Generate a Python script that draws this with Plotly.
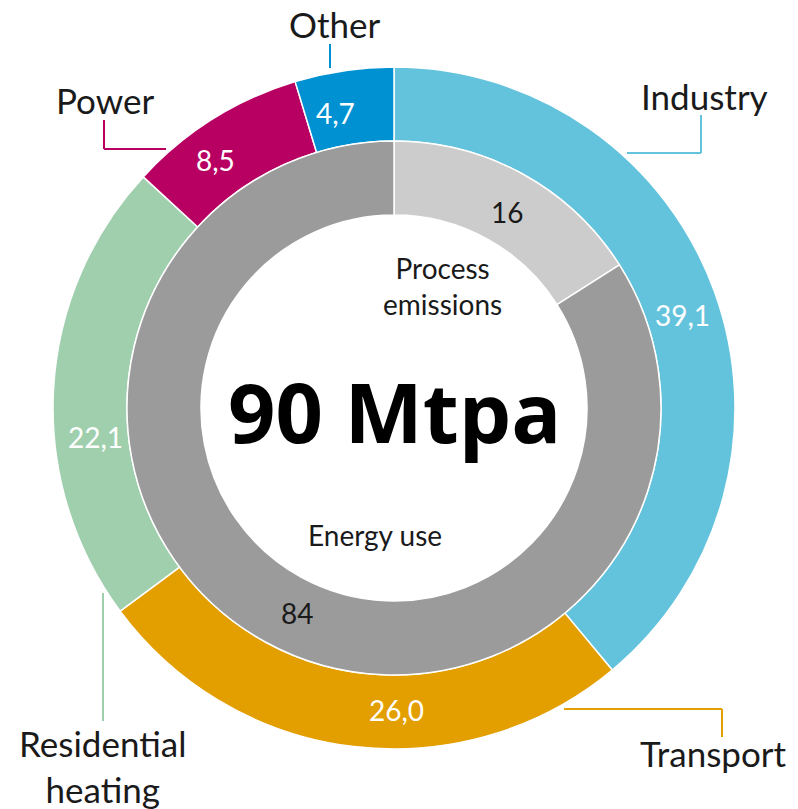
import plotly.graph_objects as go

# Outer ring: emissions by sector (Mtpa)
sectors = ["Industry", "Transport", "Residential heating", "Power", "Other"]
sector_values = [39.1, 26.0, 22.1, 8.5, 4.7]
sector_colors = ["#64C3DC", "#E39E00", "#A0CFAE", "#B80063", "#0091D2"]

# Inner ring: emissions by source
sources = ["Process emissions", "Energy use"]
source_values = [16, 84]
source_colors = ["#CCCCCC", "#9B9B9B"]

total_label = "90 Mtpa"

W, H = 798, 809
CX, CY = 394, 408          # ring centre, px from top-left
R_OUT, R_MID, R_IN = 341, 267, 193

FONT = "Lato"
DARK = "#1a1a1a"


def dom(r):
    x = [(CX - r) / W, (CX + r) / W]
    yb = H - CY
    y = [(yb - r) / H, (yb + r) / H]
    return dict(x=x, y=y)


def fmt(v):
    return f"{v:.1f}".replace(".", ",")


fig = go.Figure()
fig.add_trace(go.Pie(
    labels=sectors, values=sector_values, sort=False, direction="clockwise",
    rotation=0, hole=R_MID / R_OUT, domain=dom(R_OUT),
    marker=dict(colors=sector_colors, line=dict(color="white", width=1.5)),
    textinfo="none", hoverinfo="skip", showlegend=False,
))
fig.add_trace(go.Pie(
    labels=sources, values=source_values, sort=False, direction="clockwise",
    rotation=0, hole=R_IN / R_MID, domain=dom(R_MID),
    marker=dict(colors=source_colors, line=dict(color="white", width=1.5)),
    textinfo="none", hoverinfo="skip", showlegend=False,
))

ann = []


def px_text(x, y, text, size, color=DARK, family=FONT, weight=400):
    ann.append(dict(x=x / W, y=1 - y / H, xref="paper", yref="paper",
                    xanchor="center", yanchor="middle",
                    text=text, showarrow=False,
                    font=dict(family=family, size=size, color=color,
                              weight=weight)))


# value labels on the outer ring
value_pos = [(682, 315), (396, 710), (95, 437), (215, 160), (335, 113)]
for (x, y), v in zip(value_pos, sector_values):
    px_text(x, y, fmt(v), 28, "white")

# value labels on the inner ring
inner_pos = [(507, 212), (297, 613)]
for (x, y), v in zip(inner_pos, source_values):
    px_text(x, y, str(v), 28, DARK)

# inner ring captions
px_text(442, 286, "Process<br>emissions", 28, DARK)
px_text(375, 535, "Energy use", 28, DARK)

# sector names
name_pos = {
    "Industry": (704, 96),
    "Transport": (713, 753),
    "Residential heating": (102, 766),
    "Power": (105, 100),
    "Other": (335, 24),
}
for s in sectors:
    x, y = name_pos[s]
    txt = s.replace(" ", "<br>") if s == "Residential heating" else s
    px_text(x, y, txt, 35, DARK)

# centre total
px_text(CX, 410, f"<b>{total_label}</b>", 83, "black", "Open Sans", 700)

# leader lines from names to the ring
leaders = {
    "Industry": [(627, 153), (701, 153), (701, 115)],
    "Transport": [(564, 709), (722, 709), (722, 737)],
    "Residential heating": [(103, 593), (103, 721)],
    "Power": [(166, 149), (104, 149), (104, 120)],
    "Other": [(330, 44), (330, 68)],
}
shapes = []
for s, c in zip(sectors, sector_colors):
    pts = leaders[s]
    for (x0, y0), (x1, y1) in zip(pts[:-1], pts[1:]):
        shapes.append(dict(type="line", xref="paper", yref="paper",
                           x0=x0 / W, y0=1 - y0 / H, x1=x1 / W, y1=1 - y1 / H,
                           line=dict(color=c, width=2)))

fig.update_layout(
    width=W, height=H, margin=dict(l=0, r=0, t=0, b=0),
    paper_bgcolor="white", plot_bgcolor="white",
    annotations=ann, shapes=shapes, showlegend=False,
)

fig.write_html("out.html")
